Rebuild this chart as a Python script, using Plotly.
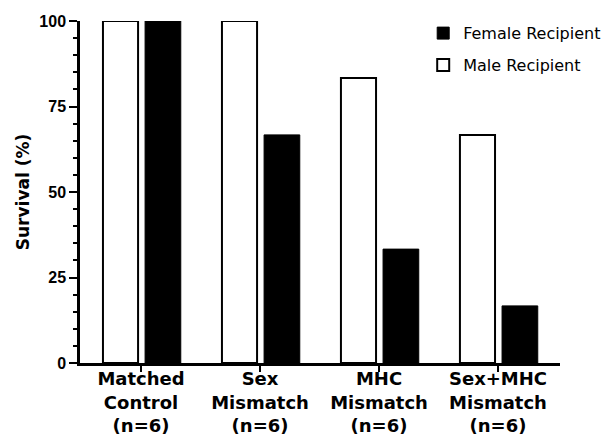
import plotly.graph_objects as go

categories = ["Matched<br>Control<br>(n=6)", "Sex<br>Mismatch<br>(n=6)",
              "MHC<br>Mismatch<br>(n=6)", "Sex+MHC<br>Mismatch<br>(n=6)"]
male_values = [100, 100, 83.3, 66.7]
female_values = [100, 66.7, 33.3, 16.7]

x_pos = list(range(len(categories)))
ARIAL = "Liberation Sans, Arial, sans-serif"
WIDE = "DejaVu Sans, sans-serif"

fig = go.Figure()
fig.add_trace(go.Bar(
    name="Male Recipient", x=x_pos, y=male_values,
    width=0.295, offset=-0.32,
    marker=dict(color="white", line=dict(color="black", width=2)),
    legendgroup="m", legendrank=2,
))
fig.add_trace(go.Bar(
    name="Female Recipient", x=x_pos, y=female_values,
    width=0.30, offset=0.034,
    marker=dict(color="black", line=dict(color="black", width=1)),
    legendgroup="f", legendrank=1,
))

fig.update_layout(
    width=607, height=438,
    margin=dict(l=72, r=55, t=13, b=83, autoexpand=False),
    plot_bgcolor="white", paper_bgcolor="white",
    barmode="group",
    showlegend=True,
    legend=dict(
        x=0.715, y=1.014, xanchor="left", yanchor="top",
        traceorder="grouped", tracegroupgap=8,
        font=dict(family=WIDE, size=16, color="black"),
        bgcolor="rgba(0,0,0,0)",
    ),
    xaxis=dict(
        range=[-0.513, 3.521],
        tickmode="array", tickvals=x_pos, ticktext=categories,
        tickfont=dict(family=WIDE, size=18, color="black", weight="bold"),
        ticks="outside", ticklen=6, tickwidth=2, tickcolor="black",
        ticklabelstandoff=-8,
        showline=True, linecolor="black", linewidth=2.5,
        showgrid=False, zeroline=False, automargin=False,
    ),
    yaxis=dict(
        range=[0, 100],
        tickmode="linear", tick0=0, dtick=25,
        tickfont=dict(family=ARIAL, size=16, color="black", weight="bold"),
        ticks="outside", ticklen=8, tickwidth=2, tickcolor="black",
        minor=dict(tickmode="linear", tick0=0, dtick=5, ticks="outside",
                   ticklen=4, tickwidth=2, tickcolor="black"),
        showline=True, linecolor="black", linewidth=2.5,
        showgrid=False, zeroline=False, automargin=False,
        title=dict(text="Survival (%)", standoff=6,
                   font=dict(family=WIDE, size=17, color="black", weight="bold")),
    ),
)

fig.write_html("out.html")
